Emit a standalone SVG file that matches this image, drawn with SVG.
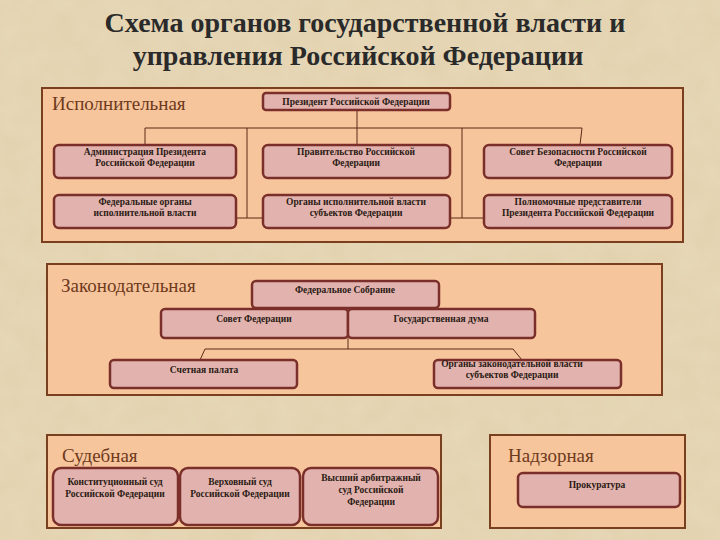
<svg xmlns="http://www.w3.org/2000/svg" width="720" height="540" viewBox="0 0 720 540">
<style>
.title{font-family:"Liberation Serif",serif;font-weight:bold;font-size:28px;fill:#2a2a2a}
.panel{fill:#f7c59c;stroke:#7a3f1e;stroke-width:2}
.plabel{font-family:"Liberation Serif",serif;font-size:19px;fill:#6e3a1c}
.box{fill:#e2b3ae;stroke:#7b2f2a;stroke-width:2.5}
.t{font-family:"Liberation Serif",serif;font-weight:bold;font-size:9.5px;fill:#2a1a14;text-anchor:middle}
.ln{stroke:#5a2a14;stroke-width:1;fill:none}
</style>
<defs>
<filter id="tex" x="0" y="0" width="100%" height="100%">
<feTurbulence type="fractalNoise" baseFrequency="0.04" numOctaves="3" seed="3"/>
<feColorMatrix values="0 0 0 0 0.86  0 0 0 0 0.78  0 0 0 0 0.62  0 0 0 0.35 0"/>
</filter>
</defs>
<rect x="0" y="0" width="720" height="540" fill="#e2d1ad"/>
<rect x="0" y="0" width="720" height="540" filter="url(#tex)"/>
<text class="title" x="365" y="32" text-anchor="middle">Схема органов государственной власти и</text>
<text class="title" x="358" y="65" text-anchor="middle">управления Российской Федерации</text>

<g id="panel-exec">
<rect class="panel" x="42" y="88" width="641" height="154"/>
<text class="plabel" x="52" y="110">Исполнительная</text>
</g>
<g id="panel-leg">
<rect class="panel" x="47" y="264" width="615" height="131"/>
<text class="plabel" x="61" y="292">Законодательная</text>
</g>
<g id="panel-jud">
<rect class="panel" x="47" y="435" width="394" height="93"/>
<text class="plabel" x="62" y="462">Судебная</text>
</g>
<g id="panel-sup">
<rect class="panel" x="490" y="435" width="195" height="93"/>
<text class="plabel" x="508" y="462">Надзорная</text>
</g>

<g id="connectors">
<path class="ln" d="M357 110 V128 M145 128 H582 M145 128 V145 M357 128 V145 M582 128 L580 145"/>
<path class="ln" d="M247 128 V218 M236 218 H263 M462 128 V218 M450 218 H484"/>
<path class="ln" d="M348 338 V349 M205 349 H513 M205 349 L200 360 M513 349 L522 360"/>
</g>

<g id="president"><rect class="box" x="263" y="93" width="187" height="17" rx="3"/><text class="t" x="356" y="105">Президент Российской Федерации</text></g>
<g id="admin"><rect class="box" x="54" y="145" width="182" height="33" rx="5"/><text class="t" x="145" y="155">Администрация Президента</text><text class="t" x="145" y="166">Российской Федерации</text></g>
<g id="gov"><rect class="box" x="263" y="145" width="187" height="33" rx="5"/><text class="t" x="356" y="155">Правительство Российской</text><text class="t" x="356" y="166">Федерации</text></g>
<g id="security"><rect class="box" x="484" y="145" width="188" height="33" rx="5"/><text class="t" x="578" y="155">Совет Безопасности Российской</text><text class="t" x="578" y="166">Федерации</text></g>
<g id="fed-organs"><rect class="box" x="54" y="195" width="182" height="33" rx="5"/><text class="t" x="145" y="205">Федеральные органы</text><text class="t" x="145" y="216">исполнительной власти</text></g>
<g id="subj-exec"><rect class="box" x="263" y="195" width="187" height="33" rx="5"/><text class="t" x="356" y="205">Органы исполнительной власти</text><text class="t" x="356" y="216">субъектов Федерации</text></g>
<g id="envoys"><rect class="box" x="484" y="195" width="188" height="33" rx="5"/><text class="t" x="578" y="205">Полномочные представители</text><text class="t" x="578" y="216">Президента Российской Федерации</text></g>

<g id="fed-assembly"><rect class="box" x="252" y="281" width="187" height="27" rx="4"/><text class="t" x="345" y="293">Федеральное Собрание</text></g>
<g id="fed-council"><rect class="box" x="161" y="309" width="187" height="29" rx="4"/><text class="t" x="254" y="322">Совет Федерации</text></g>
<g id="duma"><rect class="box" x="348" y="309" width="187" height="29" rx="4"/><text class="t" x="441" y="322">Государственная дума</text></g>
<g id="audit"><rect class="box" x="110" y="360" width="187" height="28" rx="4"/><text class="t" x="204" y="373">Счетная палата</text></g>
<g id="subj-leg"><rect class="box" x="434" y="360" width="187" height="28" rx="4"/><text class="t" x="512" y="367">Органы законодательной власти</text><text class="t" x="512" y="378">субъектов Федерации</text></g>

<g id="const-court"><rect class="box" x="53" y="468" width="125" height="57" rx="8"/><text class="t" x="115" y="485">Конституционный суд</text><text class="t" x="115" y="497">Российской Федерации</text></g>
<g id="supreme-court"><rect class="box" x="180" y="468" width="120" height="57" rx="8"/><text class="t" x="240" y="485">Верховный суд</text><text class="t" x="240" y="497">Российской Федерации</text></g>
<g id="arb-court"><rect class="box" x="303" y="468" width="135" height="57" rx="8"/><text class="t" x="371" y="481">Высший арбитражный</text><text class="t" x="371" y="493">суд Российской</text><text class="t" x="371" y="505">Федерации</text></g>
<g id="prosecutor"><rect class="box" x="518" y="473" width="162" height="34" rx="5"/><text class="t" x="597" y="488">Прокуратура</text></g>
</svg>
